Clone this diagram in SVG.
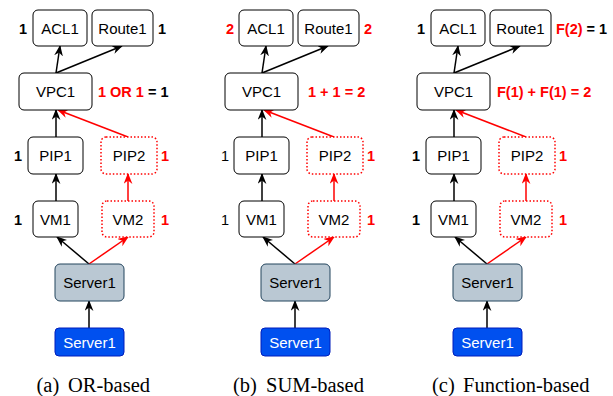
<svg xmlns="http://www.w3.org/2000/svg" width="613" height="396" viewBox="0 0 613 396">
<style>
.n rect{fill:#fff;stroke:#000;stroke-width:1}
.n text,.lbl{font-family:"Liberation Sans",Arial,sans-serif}
.n text{font-size:15px;text-anchor:middle;dominant-baseline:central;fill:#000}
.lbl{font-size:14.5px;dominant-baseline:central}
.n.red rect{stroke:#ff0000;stroke-width:1.5;stroke-dasharray:1.5 2}
.n.gray rect{fill:#bac8d3;stroke:#23445d}
.n.blue rect{fill:#0050ef;stroke:#001dbc}
.n.blue text{fill:#fff}
.b{font-weight:bold}
.r{fill:#ff0000}
.k{fill:#000}
.e{fill:none;stroke:#000;stroke-width:1.5;marker-end:url(#ak)}
.e.red{stroke:#ff0000;marker-end:url(#ar)}
.cap{font-family:"Liberation Serif","Times New Roman",serif;font-size:20.5px;fill:#000}
</style>
<defs>
<marker id="ak" viewBox="0 0 10 8" refX="9" refY="4" markerWidth="11" markerHeight="9" markerUnits="userSpaceOnUse" orient="auto"><path d="M0,0 L10,4 L0,8 L3,4 z" fill="#000"/></marker>
<marker id="ar" viewBox="0 0 10 8" refX="9" refY="4" markerWidth="11" markerHeight="9" markerUnits="userSpaceOnUse" orient="auto"><path d="M0,0 L10,4 L0,8 L3,4 z" fill="#ff0000"/></marker>
</defs>

<!-- Panel a -->
<g id="panel-a">
<g id="edges-a">
<path class="e" d="M56,73 L60,46"/>
<path class="e" d="M56,73 L122,46"/>
<path class="e" d="M56,137 L56,110"/>
<path class="e red" d="M128,137 L58,110"/>
<path class="e" d="M56,201 L56,174"/>
<path class="e red" d="M128,201 L128,174"/>
<path class="e" d="M89,264 L57,237"/>
<path class="e red" d="M89,264 L128,237"/>
<path class="e" d="M89,328 L89,301"/>
</g>
<g id="a-acl1" class="n"><rect x="33" y="10" width="54" height="36" rx="5"/><text x="60" y="28">ACL1</text></g>
<g id="a-route1" class="n"><rect x="92" y="10" width="61" height="36" rx="5"/><text x="122.5" y="28">Route1</text></g>
<g id="a-vpc1" class="n"><rect x="19" y="73" width="73" height="37" rx="5"/><text x="55.5" y="91.5">VPC1</text></g>
<g id="a-pip1" class="n"><rect x="28" y="137" width="55" height="37" rx="5"/><text x="55.5" y="155.5">PIP1</text></g>
<g id="a-pip2" class="n red"><rect x="101" y="137" width="56" height="37" rx="5"/><text x="129" y="155.5">PIP2</text></g>
<g id="a-vm1" class="n"><rect x="33" y="201" width="45" height="36" rx="5"/><text x="55.5" y="219">VM1</text></g>
<g id="a-vm2" class="n red"><rect x="102" y="201" width="52" height="36" rx="5"/><text x="128" y="219">VM2</text></g>
<g id="a-server1" class="n gray"><rect x="55" y="264" width="69" height="37" rx="5"/><text x="89.5" y="282.5">Server1</text></g>
<g id="a-server1-src" class="n blue"><rect x="55" y="328" width="69" height="28" rx="4"/><text x="89.5" y="342">Server1</text></g>
<g id="labels-a">
<text class="lbl b k" x="19" y="29">1</text>
<text class="lbl b k" x="158" y="29">1</text>
<text class="lbl b" x="98" y="92"><tspan class="r">1 OR 1</tspan><tspan class="k"> = 1</tspan></text>
<text class="lbl b k" x="14" y="156">1</text>
<text class="lbl b r" x="161" y="156">1</text>
<text class="lbl b k" x="14" y="220">1</text>
<text class="lbl b r" x="161" y="220">1</text>
</g>
<text class="cap" y="392"><tspan x="36.5">(a)</tspan><tspan x="68">OR-based</tspan></text>
</g>

<!-- Panel b -->
<g id="panel-b" transform="translate(206,0)">
<g id="edges-b">
<path class="e" d="M56,73 L60,46"/>
<path class="e" d="M56,73 L122,46"/>
<path class="e" d="M56,137 L56,110"/>
<path class="e red" d="M128,137 L58,110"/>
<path class="e" d="M56,201 L56,174"/>
<path class="e red" d="M128,201 L128,174"/>
<path class="e" d="M89,264 L57,237"/>
<path class="e red" d="M89,264 L128,237"/>
<path class="e" d="M89,328 L89,301"/>
</g>
<g id="b-acl1" class="n"><rect x="33" y="10" width="54" height="36" rx="5"/><text x="60" y="28">ACL1</text></g>
<g id="b-route1" class="n"><rect x="92" y="10" width="61" height="36" rx="5"/><text x="122.5" y="28">Route1</text></g>
<g id="b-vpc1" class="n"><rect x="19" y="73" width="73" height="37" rx="5"/><text x="55.5" y="91.5">VPC1</text></g>
<g id="b-pip1" class="n"><rect x="28" y="137" width="55" height="37" rx="5"/><text x="55.5" y="155.5">PIP1</text></g>
<g id="b-pip2" class="n red"><rect x="101" y="137" width="56" height="37" rx="5"/><text x="129" y="155.5">PIP2</text></g>
<g id="b-vm1" class="n"><rect x="33" y="201" width="45" height="36" rx="5"/><text x="55.5" y="219">VM1</text></g>
<g id="b-vm2" class="n red"><rect x="102" y="201" width="52" height="36" rx="5"/><text x="128" y="219">VM2</text></g>
<g id="b-server1" class="n gray"><rect x="55" y="264" width="69" height="37" rx="5"/><text x="89.5" y="282.5">Server1</text></g>
<g id="b-server1-src" class="n blue"><rect x="55" y="328" width="69" height="28" rx="4"/><text x="89.5" y="342">Server1</text></g>
<g id="labels-b">
<text class="lbl b r" x="20" y="29">2</text>
<text class="lbl b r" x="158" y="29">2</text>
<text class="lbl b r" x="102" y="92">1 + 1 = 2</text>
<text class="lbl k" x="15" y="156">1</text>
<text class="lbl b r" x="161" y="156">1</text>
<text class="lbl k" x="15" y="220">1</text>
<text class="lbl b r" x="161" y="220">1</text>
</g>
<text class="cap" y="392"><tspan x="27">(b)</tspan><tspan x="60">SUM-based</tspan></text>
</g>

<!-- Panel c -->
<g id="panel-c" transform="translate(398,0)">
<g id="edges-c">
<path class="e" d="M56,73 L60,46"/>
<path class="e" d="M56,73 L122,46"/>
<path class="e" d="M56,137 L56,110"/>
<path class="e red" d="M128,137 L58,110"/>
<path class="e" d="M56,201 L56,174"/>
<path class="e red" d="M128,201 L128,174"/>
<path class="e" d="M89,264 L57,237"/>
<path class="e red" d="M89,264 L128,237"/>
<path class="e" d="M89,328 L89,301"/>
</g>
<g id="c-acl1" class="n"><rect x="33" y="10" width="54" height="36" rx="5"/><text x="60" y="28">ACL1</text></g>
<g id="c-route1" class="n"><rect x="92" y="10" width="61" height="36" rx="5"/><text x="122.5" y="28">Route1</text></g>
<g id="c-vpc1" class="n"><rect x="19" y="73" width="73" height="37" rx="5"/><text x="55.5" y="91.5">VPC1</text></g>
<g id="c-pip1" class="n"><rect x="28" y="137" width="55" height="37" rx="5"/><text x="55.5" y="155.5">PIP1</text></g>
<g id="c-pip2" class="n red"><rect x="101" y="137" width="56" height="37" rx="5"/><text x="129" y="155.5">PIP2</text></g>
<g id="c-vm1" class="n"><rect x="33" y="201" width="45" height="36" rx="5"/><text x="55.5" y="219">VM1</text></g>
<g id="c-vm2" class="n red"><rect x="102" y="201" width="52" height="36" rx="5"/><text x="128" y="219">VM2</text></g>
<g id="c-server1" class="n gray"><rect x="55" y="264" width="69" height="37" rx="5"/><text x="89.5" y="282.5">Server1</text></g>
<g id="c-server1-src" class="n blue"><rect x="55" y="328" width="69" height="28" rx="4"/><text x="89.5" y="342">Server1</text></g>
<g id="labels-c">
<text class="lbl b k" x="19" y="29">1</text>
<text class="lbl b" x="158" y="29"><tspan class="r">F(2)</tspan><tspan class="k"> = 1</tspan></text>
<text class="lbl b r" x="99" y="92">F(1) + F(1) = 2</text>
<text class="lbl b k" x="14" y="156">1</text>
<text class="lbl b r" x="161" y="156">1</text>
<text class="lbl b k" x="14" y="220">1</text>
<text class="lbl b r" x="161" y="220">1</text>
</g>
<text class="cap" y="392"><tspan x="34">(c)</tspan><tspan x="65">Function-based</tspan></text>
</g>
</svg>
